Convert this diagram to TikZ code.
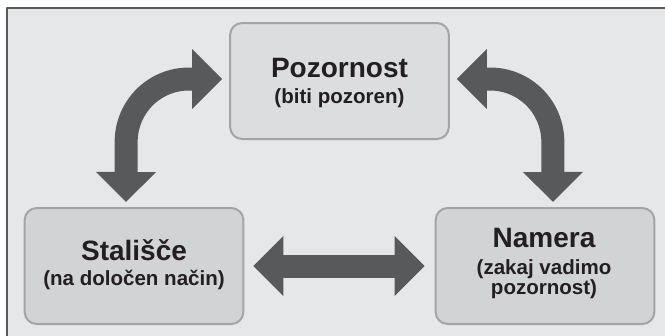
\documentclass[tikz,border=0pt]{standalone}
\usepackage{fontspec}
\setmainfont{Liberation Sans}
\usetikzlibrary{arrows.meta}
\usetikzlibrary{positioning}
\definecolor{bggrey}{HTML}{E6E7E8}
\definecolor{framegrey}{HTML}{58595B}
\definecolor{arrowgrey}{HTML}{58595B}
\definecolor{boxline}{HTML}{A2A4A7}
\definecolor{topfill}{HTML}{DCDDDF}
\definecolor{lowfill}{HTML}{D1D3D4}
\definecolor{txt}{HTML}{231F20}
\begin{document}
\begin{tikzpicture}[line cap=round,line join=round,x=0.75pt,y=-0.75pt,
  box/.style={draw=boxline,line width=1.5pt,rounded corners=9pt,minimum width=164pt,minimum height=87pt,inner sep=0pt},
  titletext/.style={anchor=base,text=txt,font=\fontsize{21}{25}\selectfont\bfseries},
  subtext/.style={anchor=base,text=txt,font=\fontsize{15.4}{18}\selectfont\bfseries},
  bigarrow/.style={line width=17.25pt,line cap=butt,color=arrowgrey,{Triangle[width=43.5pt,length=22.5pt]}-{Triangle[width=43.5pt,length=22.5pt]}}]
\useasboundingbox (0,0) rectangle (665,336);
\fill[bggrey] (7,8) rectangle (665,336);
\draw[framegrey,line width=1.5pt,line cap=butt] (7,336) -- (7,8) -- (665,8);
\node[box,fill=topfill] (poz) at (339.5,81) {};
\node[box,fill=lowfill] (sta) at (134,266) {};
\node[box,fill=lowfill] (nam) at (545,266) {};
\node[titletext] (poz-t) at (339.5,77) {Pozornost};
\node[subtext] (poz-s) at (339.5,103) {(biti pozoren)};
\node[titletext] (sta-t) at (134,260.5) {Stališče};
\node[subtext] (sta-s) at (134,285.5) {(na določen način)};
\node[titletext] (nam-t) at (544,247) {Namera};
\node[subtext] (nam-s) at (544,274) {(zakaj vadimo};
\node[subtext] (nam-u) at (544,294) {pozornost)};
\draw[bigarrow] ([xshift=-5.25pt,yshift=1.5pt]poz.west) -- ++(-33,0) .. controls +(-35,0) and +(0,-35) .. ++(-63,63) -- ([xshift=-6pt,yshift=3.75pt]sta.north);
\draw[bigarrow] ([xshift=5.25pt,yshift=1.5pt]poz.east) -- ++(33,0) .. controls +(35,0) and +(0,-35) .. ++(63,63) -- ([xshift=6pt,yshift=3.75pt]nam.north);
\draw[bigarrow] ([xshift=6.75pt]sta.east) -- ([xshift=-7.5pt]nam.west);
\end{tikzpicture}
\end{document}
